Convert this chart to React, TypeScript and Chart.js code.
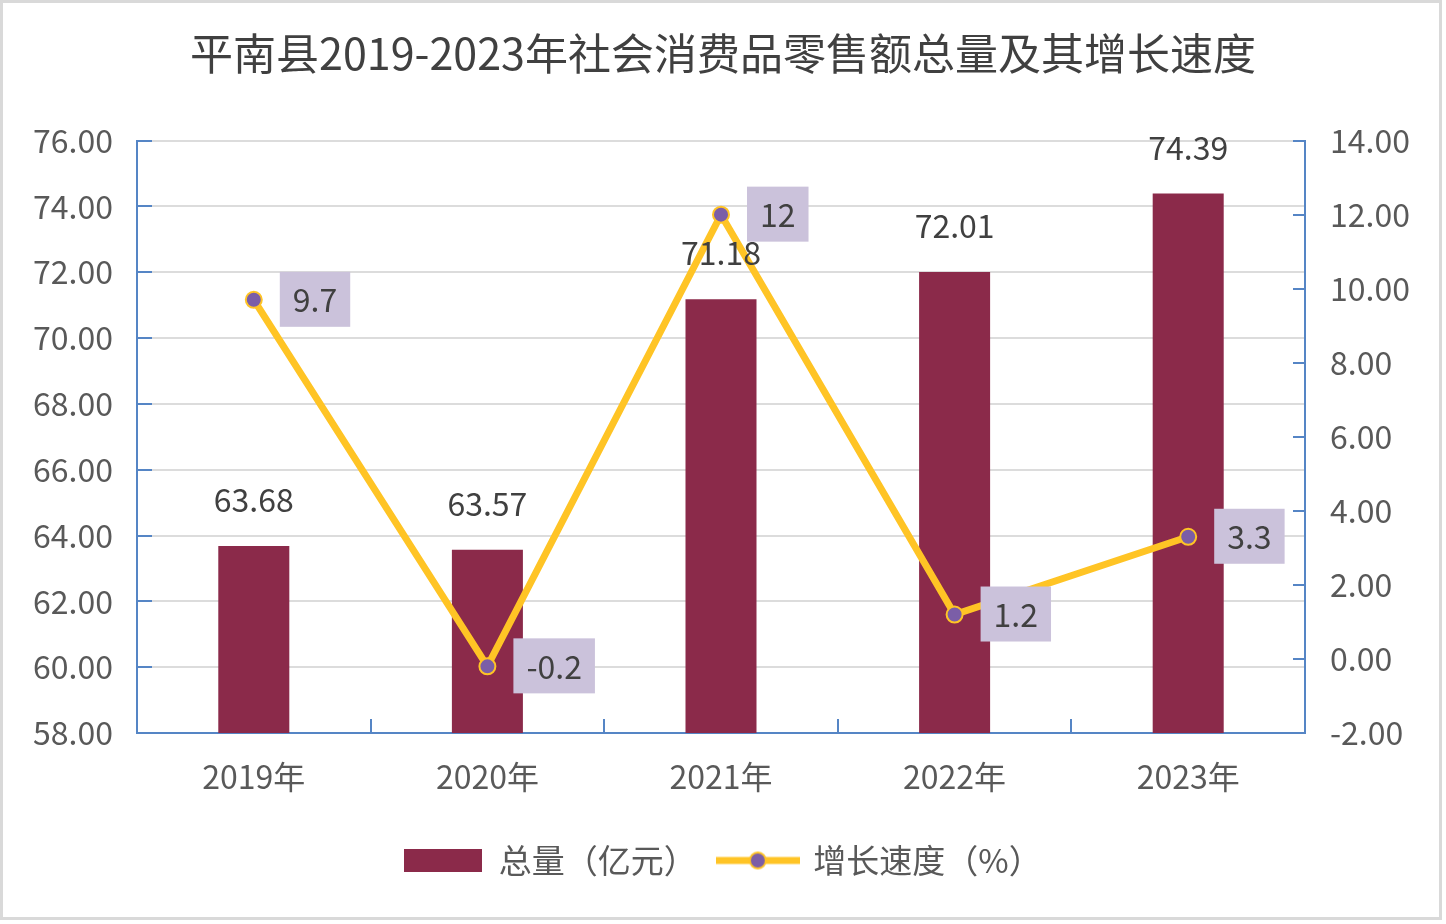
import { useEffect, useRef } from 'react';
import { Chart, registerables } from 'chart.js';

Chart.register(...registerables);

const years = ['2019年', '2020年', '2021年', '2022年', '2023年'];
const totals = [63.68, 63.57, 71.18, 72.01, 74.39];
const growth = [9.7, -0.2, 12, 1.2, 3.3];

const BAR = '#8B2A4A';
const LINE = '#FFC425';
const DOT = '#7B5EA7';
const AXIS = '#5585C5';
const GRID = '#DCDCDC';
const TEXT = '#595959';
const FONT = '"Noto Sans CJK SC", "Noto Sans", sans-serif';

function legendBar() {
  const c = document.createElement('canvas');
  c.width = 78;
  c.height = 23;
  const g = c.getContext('2d')!;
  g.fillStyle = BAR;
  g.fillRect(0, 0, 78, 23);
  return c;
}

function legendLine() {
  const c = document.createElement('canvas');
  c.width = 84;
  c.height = 24;
  const g = c.getContext('2d')!;
  g.strokeStyle = LINE;
  g.lineWidth = 7;
  g.beginPath();
  g.moveTo(0, 12);
  g.lineTo(84, 12);
  g.stroke();
  g.beginPath();
  g.arc(42, 12, 8, 0, Math.PI * 2);
  g.fillStyle = DOT;
  g.fill();
  g.lineWidth = 2;
  g.stroke();
  return c;
}

const frame = {
  id: 'frame',
  beforeDraw(chart: Chart) {
    const { ctx, width, height } = chart;
    ctx.save();
    ctx.fillStyle = '#fff';
    ctx.fillRect(0, 0, width, height);
    ctx.strokeStyle = '#D9D9D9';
    ctx.lineWidth = 3;
    ctx.strokeRect(1.5, 1.5, 1439, 917);
    ctx.restore();
  },
};

const valueLabels = {
  id: 'valueLabels',
  afterDatasetsDraw(chart: Chart) {
    const { ctx } = chart;
    ctx.save();
    ctx.font = `32px ${FONT}`;
    ctx.textBaseline = 'middle';
    ctx.textAlign = 'center';
    ctx.fillStyle = '#404040';
    chart.getDatasetMeta(0).data.forEach((el, i) => {
      ctx.fillText(totals[i].toFixed(2), el.x, el.y - 46);
    });
    chart.getDatasetMeta(1).data.forEach((el, i) => {
      const txt = String(growth[i]);
      const w = ctx.measureText(txt).width + 26;
      const left = el.x + 26;
      ctx.fillStyle = '#CBC2DB';
      ctx.fillRect(left, el.y - 28, w, 55);
      ctx.fillStyle = '#404040';
      ctx.fillText(txt, left + w / 2, el.y);
    });
    ctx.restore();
  },
};

export default function App() {
  const canvasRef = useRef<HTMLCanvasElement>(null);

  useEffect(() => {
    if (!canvasRef.current) return;
    const barImg = legendBar();
    const lineImg = legendLine();

    const chart = new Chart(canvasRef.current, {
      type: 'bar',
      data: {
        labels: years,
        datasets: [
          {
            type: 'bar',
            label: '总量（亿元）',
            data: totals,
            backgroundColor: BAR,
            yAxisID: 'y',
            barPercentage: 0.304,
            categoryPercentage: 1,
            order: 2,
          },
          {
            type: 'line',
            label: '增长速度（%）',
            data: growth,
            borderColor: LINE,
            borderWidth: 7,
            tension: 0,
            pointRadius: 8,
            pointBackgroundColor: DOT,
            pointBorderColor: LINE,
            pointBorderWidth: 2,
            yAxisID: 'y1',
            order: 1,
          },
        ],
      },
      options: {
        responsive: false,
        animation: false,
        layout: { padding: { left: 0, right: 0, top: 0, bottom: 37 } },
        plugins: {
          tooltip: { enabled: false },
          title: {
            display: true,
            text: '平南县2019-2023年社会消费品零售额总量及其增长速度',
            color: '#404040',
            font: { family: FONT, size: 43, weight: 'normal', lineHeight: 1.2 },
            padding: { top: 28, bottom: 61 },
          },
          legend: {
            position: 'bottom',
            labels: {
              usePointStyle: true,
              pointStyleWidth: 78,
              padding: 22,
              color: TEXT,
              font: { family: FONT, size: 33 },
              generateLabels: () => [
                { text: '总量（亿元）', pointStyle: barImg, fillStyle: BAR, strokeStyle: BAR, lineWidth: 0, hidden: false, datasetIndex: 0, fontColor: TEXT },
                { text: '增长速度（%）', pointStyle: lineImg, fillStyle: LINE, strokeStyle: LINE, lineWidth: 0, hidden: false, datasetIndex: 1, fontColor: TEXT },
              ],
            },
          },
        },
        scales: {
          x: {
            offset: true,
            grid: { drawOnChartArea: false, offset: true, tickLength: -14, tickColor: AXIS, lineWidth: 2 },
            border: { color: AXIS, width: 2 },
            ticks: { color: TEXT, font: { family: FONT, size: 32 }, padding: 39 },
            afterFit: (s) => { s.height = 89; },
          },
          y: {
            position: 'left',
            min: 58,
            max: 76,
            ticks: {
              stepSize: 2,
              color: TEXT,
              font: { family: FONT, size: 32 },
              padding: 39,
              callback: (v) => Number(v).toFixed(2),
            },
            grid: { color: GRID, lineWidth: 2, tickColor: AXIS, tickLength: -15 },
            border: { color: AXIS, width: 2 },
            afterFit: (s) => { s.width = 137; },
          },
          y1: {
            position: 'right',
            min: -2,
            max: 14,
            ticks: {
              stepSize: 2,
              color: TEXT,
              font: { family: FONT, size: 32 },
              padding: 37,
              callback: (v) => Number(v).toFixed(2),
            },
            grid: { drawOnChartArea: false, tickColor: AXIS, tickLength: -12, lineWidth: 2 },
            border: { color: AXIS, width: 2 },
            afterFit: (s) => { s.width = 141; },
          },
        },
      },
      plugins: [frame, valueLabels],
    });

    return () => chart.destroy();
  }, []);

  return (
    <div style={{ position: 'fixed', left: 0, top: 0, width: 1446, height: 924, background: '#fff' }}>
      <canvas ref={canvasRef} width={1446} height={924} style={{ display: 'block' }} />
    </div>
  );
}
